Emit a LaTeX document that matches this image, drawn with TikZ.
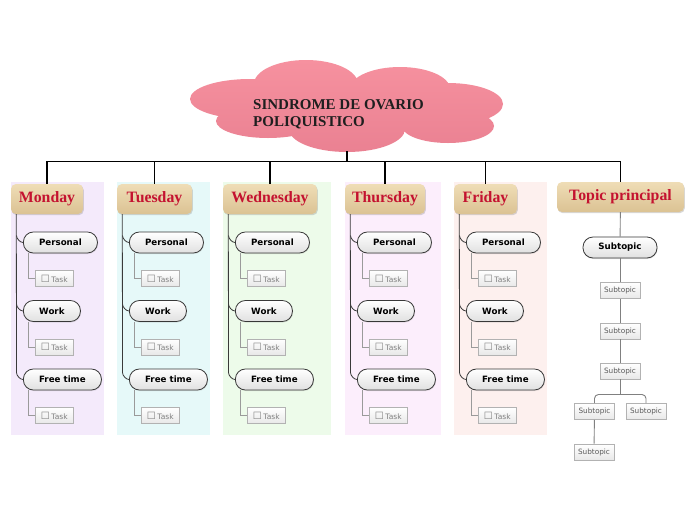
\documentclass[tikz,border=0pt]{standalone}
\usepackage{fontspec}
\setmainfont{DejaVu Sans}
\newfontfamily\serifb{Liberation Serif}
\usetikzlibrary{shadows,calc}
\definecolor{hdrred}{HTML}{C41230}
\definecolor{hdrtop}{HTML}{EFDDB6}
\definecolor{hdrbot}{HTML}{DBC293}
\definecolor{bgmon}{HTML}{F4EAFB}
\definecolor{bgtue}{HTML}{E6F9F9}
\definecolor{bgwed}{HTML}{EDFBEA}
\definecolor{bgthu}{HTML}{FCEEFC}
\definecolor{bgfri}{HTML}{FDF0EE}
\definecolor{cloudtop}{HTML}{F6919F}
\definecolor{cloudbot}{HTML}{EA8192}
\definecolor{trunkc}{HTML}{3A3A3A}
\definecolor{tlinec}{HTML}{9A9A9A}
\tikzset{
 hdr/.style={rounded corners=5pt, top color=hdrtop, bottom color=hdrbot,
   drop shadow={shadow xshift=0.8pt, shadow yshift=-1.2pt, opacity=0.3},
   font=\serifb\bfseries\fontsize{15.8}{16}\selectfont, text=hdrred,
   minimum height=30pt, inner sep=0pt},
 pill/.style={rounded corners=10pt, draw=black!78, line width=0.8pt,
   top color=white, bottom color=black!12,
   drop shadow={shadow xshift=0.6pt, shadow yshift=-1pt, opacity=0.2},
   font=\bfseries\fontsize{8.7}{10}\selectfont, minimum height=21pt, inner sep=0pt},
 taskbox/.style={draw=black!30, line width=0.6pt, top color=white, bottom color=black!9,
   minimum width=38pt, minimum height=16pt, inner sep=0pt, text=black!50,
   font=\fontsize{7.5}{8}\selectfont},
 subbox/.style={draw=black!30, line width=0.6pt, top color=white, bottom color=black!9,
   minimum width=40pt, minimum height=16pt, inner sep=0pt, text=black!65,
   font=\fontsize{7.3}{8}\selectfont},
 trunk/.style={draw=trunkc, line width=0.8pt},
 tline/.style={draw=tlinec, line width=0.8pt},
 mainline/.style={draw=black, line width=1.6pt},
 subline/.style={draw=black!50, line width=0.9pt},
}
\newcommand\tasktext{{\fontsize{10}{9}\selectfont ☐}\hspace{1.5pt}Task}
\newcommand\daycol[6]{%
 \fill[#5] (#2,182) rectangle (#2+#4,435);
 \node[hdr, minimum width=#3pt] (#1) at (#2+#3/2,199) {#6};
 \node[pill, anchor=west, minimum width=74pt] (#1p) at (#2+12,242.5) {Personal};
 \node[pill, anchor=west, minimum width=57pt] (#1w) at (#2+12,311) {Work};
 \node[pill, anchor=west, minimum width=78pt] (#1f) at (#2+12,379.5) {Free time};
 \node[taskbox, anchor=west] (#1pt) at (#2+24,278.5) {\tasktext};
 \node[taskbox, anchor=west] (#1wt) at (#2+24,347) {\tasktext};
 \node[taskbox, anchor=west] (#1ft) at (#2+24,415.5) {\tasktext};
 \draw[trunk] ([xshift=5.5pt]#1.south west) -- ([xshift=-6.5pt,yshift=7pt]#1f.west)
   .. controls +(0,3) and +(-3,0) .. (#1f.west);
 \draw[trunk] ([xshift=-6.5pt,yshift=7pt]#1p.west) .. controls +(0,3) and +(-3,0) .. (#1p.west);
 \draw[trunk] ([xshift=-6.5pt,yshift=7pt]#1w.west) .. controls +(0,3) and +(-3,0) .. (#1w.west);
 \draw[tline] ([xshift=5.5pt]#1p.south west) |- (#1pt.west);
 \draw[tline] ([xshift=5.5pt]#1w.south west) |- (#1wt.west);
 \draw[tline] ([xshift=5.5pt]#1f.south west) |- (#1ft.west);
}
\begin{document}
\begin{tikzpicture}[x=1pt,y=-1pt]
\useasboundingbox (0,0) rectangle (696,520);
\fill[white] (0,0) rectangle (696,520);
% cloud
\shade[top color=cloudtop, bottom color=cloudbot]
 (306,84) ellipse [x radius=52pt, y radius=24pt]
 (400,89) ellipse [x radius=50pt, y radius=22pt]
 (250,99) ellipse [x radius=60pt, y radius=20pt]
 (448,104) ellipse [x radius=55pt, y radius=21pt]
 (268,121) ellipse [x radius=52pt, y radius=17pt]
 (347,129) ellipse [x radius=58pt, y radius=23pt]
 (448,126) ellipse [x radius=46pt, y radius=17pt]
 (345,106) ellipse [x radius=110pt, y radius=28pt];
\node[font=\serifb\bfseries\fontsize{15}{17}\selectfont, align=left, anchor=north west,
  inner sep=0pt, text=black!88] (title) at (253,99) {SINDROME DE OVARIO\\POLIQUISTICO};
\coordinate (cloudb) at (347,151);
% day columns
\daycol{mon}{11}{72}{93}{bgmon}{Monday}
\daycol{tue}{117}{75}{93}{bgtue}{Tuesday}
\daycol{wed}{223}{94}{108}{bgwed}{Wednesday}
\daycol{thu}{345}{80}{96}{bgthu}{Thursday}
\daycol{fri}{454}{63}{93}{bgfri}{Friday}
% topic principal column
\node[hdr, minimum width=127pt] (tp) at (620.5,197) {Topic principal};
\node[pill, minimum width=74pt] (s0) at (620,247.5) {Subtopic};
\node[subbox] (s1) at (620,290.5) {Subtopic};
\node[subbox] (s2) at (620,331) {Subtopic};
\node[subbox] (s3) at (620,371) {Subtopic};
\node[subbox] (s4) at (594.5,411.5) {Subtopic};
\node[subbox] (s5) at (646,411.5) {Subtopic};
\node[subbox] (s6) at (594,452) {Subtopic};
\coordinate (fork) at (620,394.5);
\draw[subline] (tp) -- (s0);
\draw[subline] (s0) -- (s1);
\draw[subline] (s1) -- (s2);
\draw[subline] (s2) -- (s3);
\draw[subline] (s3) -- (fork);
\draw[subline, rounded corners=4pt] (fork) -| (s4.north);
\draw[subline, rounded corners=4pt] (fork) -| (s5.north);
\draw[subline] (s4) -- (s6);
% main connectors
\coordinate (hub) at (347,161.5);
\draw[mainline] (cloudb) -- (hub);
\foreach \n in {mon,tue,wed,thu,fri,tp} { \draw[mainline] (hub) -| (\n.north); }
\end{tikzpicture}
\end{document}
